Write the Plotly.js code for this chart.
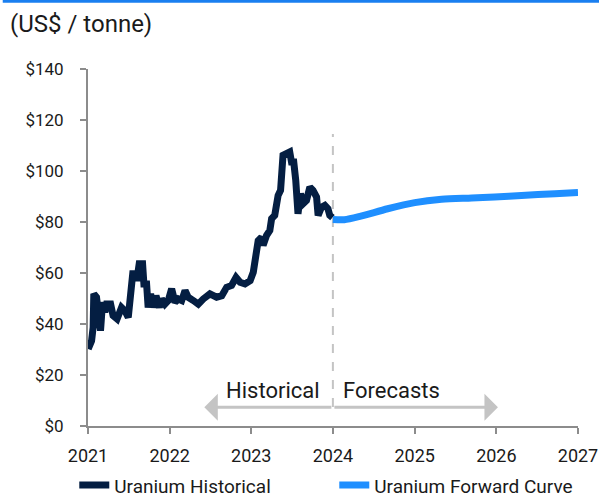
<!DOCTYPE html>
<html>
<head>
<meta charset="utf-8">
<script src="https://cdn.plot.ly/plotly-3.0.1.min.js"></script>
<style>
html,body{margin:0;padding:0;background:#fff;}
#chart{width:599px;height:497px;}
</style>
</head>
<body>
<div id="chart"></div>
<script>
// Historical uranium price (US$/tonne as labelled)
const histDates = [
 "2021-01-02","2021-01-17","2021-01-24","2021-01-27","2021-02-08","2021-02-15","2021-02-26",
 "2021-03-07","2021-03-17","2021-03-25","2021-04-12","2021-04-23","2021-05-11","2021-05-31",
 "2021-06-15","2021-06-30","2021-07-07","2021-07-20","2021-07-30","2021-08-07","2021-08-18",
 "2021-09-02","2021-09-08","2021-09-20","2021-09-27","2021-10-08","2021-10-20","2021-11-01",
 "2021-11-16","2021-11-26","2021-12-11","2021-12-26","2022-01-10","2022-01-25","2022-02-09",
 "2022-02-24","2022-03-11","2022-03-25","2022-04-17","2022-05-09","2022-05-31","2022-06-30",
 "2022-07-30","2022-08-22","2022-09-13","2022-10-05","2022-10-25","2022-11-12","2022-12-04",
 "2022-12-27","2023-01-10","2023-01-22","2023-02-01","2023-02-16","2023-02-23","2023-03-10",
 "2023-03-25","2023-04-02","2023-04-16","2023-05-01","2023-05-12","2023-05-23","2023-06-08",
 "2023-06-22","2023-06-30","2023-07-10","2023-07-19","2023-07-29","2023-08-09","2023-08-21",
 "2023-09-05","2023-09-20","2023-10-04","2023-10-20","2023-10-27","2023-11-11","2023-11-26",
 "2023-12-10","2023-12-18","2023-12-30"
];
const histValues = [
 30.2,33.4,38.7,51.8,50.5,42.6,37.4,
 48.5,44.6,47.8,47.8,43.3,42.0,46.5,
 45.2,42.6,47.8,59.7,59.7,57.0,63.6,
 63.6,55.7,55.7,46.5,51.8,46.5,51.1,
 46.5,49.8,47.8,49.2,53.8,48.5,49.8,
 49.2,53.1,50.5,49.2,47.8,49.8,51.8,
 50.5,51.1,54.4,55.1,58.3,56.4,55.7,
 57.0,60.3,66.2,72.7,74.0,70.8,74.7,
 76.7,81.3,82.6,90.4,92.4,106.2,106.8,
 107.5,103.5,103.5,96.3,83.2,91.1,87.2,
 88.5,93.7,92.4,89.8,82.6,85.8,86.5,
 85.2,82.6,81.7
];
// Forward curve
const fwdDates = ["2024-01-01","2024-02-21","2024-05-05","2024-09-02","2025-01-01","2025-05-01",
 "2025-09-13","2025-12-24","2026-04-23","2026-09-20","2027-01-01"];
const fwdValues = [81.0,80.9,82.3,85.2,87.6,88.9,89.4,89.8,90.4,91.1,91.6];

const yTickVals = [0,20,40,60,80,100,120,140];
const yTickText = ["$0","$20","$40","$60","$80","$100","$120","$140"];
const xTickVals = ["2021-01-01","2022-01-01","2023-01-01","2024-01-01","2025-01-01","2026-01-01","2027-01-01"];
const xTickText = ["2021","2022","2023","2024","2025","2026","2027"];

const splitDate = "2024-01-01";
const dashTop = 114.5, dashBottom = 7.5;
const arrowY = 7.4;
const arrowLeft = "2022-06-05", arrowRight = "2026-01-08";
const histLabelX = "2023-04-06", fcstLabelX = "2024-09-20", labelY = 13.8;

const NAVY = "#041e42", BLUE = "#1f8fff", GREY = "#c4c4c4", AXIS = "#8c8c8c", TXT = "#1a1a1a";
const FONT = "Roboto, 'Noto Sans', sans-serif";

const traces = [
 {x: histDates, y: histValues, type: "scatter", mode: "lines", name: "Uranium Historical",
  line: {color: NAVY, width: 7, shape: "linear"}},
 {x: fwdDates, y: fwdValues, type: "scatter", mode: "lines", name: "Uranium Forward Curve",
  line: {color: BLUE, width: 7, shape: "spline", smoothing: 0.8}}
];

const layout = {
 width: 599, height: 497,
 margin: {l: 88, r: 21, t: 69, b: 71, autoexpand: false},
 paper_bgcolor: "#fff", plot_bgcolor: "#fff",
 font: {family: FONT, size: 18, color: TXT},
 showlegend: true,
 legend: {orientation: "h", x: -0.028, xanchor: "left", y: -0.166, yanchor: "middle",
   font: {family: FONT, size: 19, color: TXT}, entrywidth: 215, entrywidthmode: "pixels",
   tracegroupgap: 0},
 xaxis: {type: "date", range: ["2021-01-01","2027-01-01"], tickmode: "array",
   tickvals: xTickVals, ticktext: xTickText, showgrid: false, zeroline: false,
   showline: true, linecolor: AXIS, linewidth: 2, ticks: "outside", ticklen: 6,
   tickwidth: 2, tickcolor: AXIS, ticklabelstandoff: 6,
   tickfont: {family: FONT, size: 18, color: TXT}},
 yaxis: {range: [0, 140], tickmode: "array", tickvals: yTickVals, ticktext: yTickText,
   showgrid: false, zeroline: false, showline: true, linecolor: AXIS, linewidth: 2,
   ticks: "outside", ticklen: 6, tickwidth: 2, tickcolor: AXIS, ticklabelstandoff: 13,
   tickfont: {family: FONT, size: 17, color: TXT}},
 shapes: [
  {type: "line", xref: "x", yref: "y", x0: splitDate, x1: splitDate, y0: dashBottom, y1: dashTop,
   line: {color: GREY, width: 2, dash: "dash"}, layer: "below"},
  {type: "rect", xref: "paper", yref: "paper", x0: -0.174, x1: 1.05, y0: 1.1856, y1: 1.1934,
   fillcolor: "#1a7ff0", line: {width: 0}}
 ],
 annotations: [
  {text: "(US$ / tonne)", xref: "paper", yref: "paper", x: -0.163, y: 1.125, xanchor: "left",
   yanchor: "middle", showarrow: false, font: {family: FONT, size: 24, color: TXT}},
  {text: "Historical", xref: "x", yref: "y", x: histLabelX, y: labelY, xanchor: "center",
   yanchor: "middle", showarrow: false, font: {family: FONT, size: 22, color: TXT}},
  {text: "Forecasts", xref: "x", yref: "y", x: fcstLabelX, y: labelY, xanchor: "center",
   yanchor: "middle", showarrow: false, font: {family: FONT, size: 22, color: TXT}},
  {text: "", x: arrowLeft, y: arrowY, xref: "x", yref: "y", ax: splitDate, ay: arrowY,
   axref: "x", ayref: "y", showarrow: true, arrowhead: 1, arrowsize: 1.5, arrowwidth: 3,
   arrowcolor: GREY, standoff: 0},
  {text: "", x: arrowRight, y: arrowY, xref: "x", yref: "y", ax: splitDate, ay: arrowY,
   axref: "x", ayref: "y", showarrow: true, arrowhead: 1, arrowsize: 1.5, arrowwidth: 3,
   arrowcolor: GREY, standoff: 0}
 ]
};

Plotly.newPlot("chart", traces, layout, {displayModeBar: false, staticPlot: true});
</script>
</body>
</html>
